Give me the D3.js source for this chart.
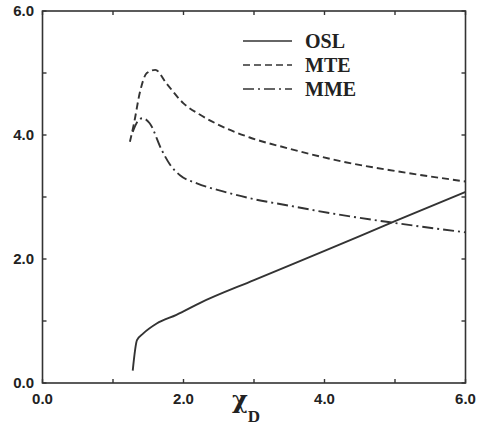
<!DOCTYPE html>
<meta charset="utf-8">
<style>
    body { margin: 0; background: #fff; }
    .tick-label { font: bold 15px "Liberation Sans", Arial, sans-serif; fill: #222; }
    .frame { fill: none; stroke: #333; stroke-width: 1.6px; }
    .curve { fill: none; stroke: #333; stroke-width: 1.9px; }
    .legend text { font: bold 20px "Liberation Serif", "Times New Roman", serif; fill: #222; }
</style>
<svg id="svg" width="478" height="426"></svg>
<script src="https://d3js.org/d3.v7.min.js"></script>
<script>
var svg = d3.select("#svg");

// data
var oslX = [1.28, 1.34, 1.43, 1.62, 1.9, 2.23, 3.0, 4.0, 5.0, 6.0];
var oslY = [0.20, 0.69, 0.80, 0.96, 1.10, 1.29, 1.66, 2.13, 2.61, 3.08];

var mteX = [1.24, 1.30, 1.38, 1.48, 1.60, 1.76, 2.00, 2.23, 2.47, 2.94, 3.50, 4.26, 5.00, 6.00];
var mteY = [3.89, 4.20, 4.68, 5.00, 5.05, 4.83, 4.51, 4.33, 4.18, 3.96, 3.78, 3.57, 3.42, 3.25];

var mmeX = [1.28, 1.35, 1.42, 1.52, 1.69, 1.81, 1.95, 2.19, 2.56, 2.94, 3.50, 4.08, 4.88, 6.00];
var mmeY = [4.05, 4.22, 4.27, 4.19, 3.76, 3.52, 3.35, 3.22, 3.09, 2.98, 2.86, 2.74, 2.60, 2.43];

var seriesNames = ["OSL", "MTE", "MME"];
var dashes = [null, "7,4", "11,4,2,4"];
var majorTicks = [0, 2, 4, 6];
var minorTicks = [0, 1, 2, 3, 4, 5, 6];

var x = d3.scaleLinear().domain([0, 6]).range([42.5, 465.5]);
var y = d3.scaleLinear().domain([0, 6]).range([383, 11]);

function zip(xs, ys) { return xs.map(function(v, i) { return [v, ys[i]]; }); }
var series = [zip(oslX, oslY), zip(mteX, mteY), zip(mmeX, mmeY)];

// ticks, all inward, on all four sides
var tl = 4;
var g = svg.append("g").attr("stroke", "#333").attr("stroke-width", 1.4);
minorTicks.forEach(function(t) {
    g.append("line").attr("x1", x(t)).attr("x2", x(t)).attr("y1", y(0)).attr("y2", y(0) - tl);
    g.append("line").attr("x1", x(t)).attr("x2", x(t)).attr("y1", y(6)).attr("y2", y(6) + tl);
    g.append("line").attr("y1", y(t)).attr("y2", y(t)).attr("x1", x(0)).attr("x2", x(0) + tl);
    g.append("line").attr("y1", y(t)).attr("y2", y(t)).attr("x1", x(6)).attr("x2", x(6) - tl);
});

svg.append("rect").attr("class", "frame")
    .attr("x", x(0)).attr("y", y(6))
    .attr("width", x(6) - x(0)).attr("height", y(0) - y(6));

svg.selectAll(".ylab").data(majorTicks).enter().append("text")
    .attr("class", "tick-label")
    .attr("x", 34).attr("y", function(d) { return y(d); })
    .attr("dy", "0.36em").attr("text-anchor", "end")
    .text(function(d) { return d.toFixed(1); });

svg.selectAll(".xlab").data(majorTicks).enter().append("text")
    .attr("class", "tick-label")
    .attr("x", function(d) { return x(d); }).attr("y", 404)
    .attr("text-anchor", "middle")
    .text(function(d) { return d.toFixed(1); });

// axis title chi_D
var title = svg.append("text").attr("x", 232).attr("y", 408)
    .style("font-family", "'DejaVu Serif', 'Liberation Serif', serif").style("font-weight", "bold").attr("fill", "#222");
title.append("tspan").style("font-size", "24px").text("χ");
title.append("tspan").style("font-family", "'Liberation Serif', serif").style("font-size", "17px").attr("dy", 14).text("D");

var line = d3.line()
    .x(function(d) { return x(d[0]); })
    .y(function(d) { return y(d[1]); })
    .curve(d3.curveMonotoneX);

series.forEach(function(s, i) {
    svg.append("path").datum(s)
        .attr("class", "curve")
        .attr("d", line)
        .attr("stroke-dasharray", dashes[i]);
});

// legend
var legend = svg.append("g").attr("class", "legend");
seriesNames.forEach(function(name, i) {
    var ly = 41 + i * 24;
    legend.append("line").attr("x1", 243).attr("x2", 292).attr("y1", ly).attr("y2", ly)
        .attr("stroke", "#333").attr("stroke-width", 1.5).attr("stroke-dasharray", dashes[i]);
    legend.append("text").attr("x", 305).attr("y", ly + 7).text(name);
});
</script>
